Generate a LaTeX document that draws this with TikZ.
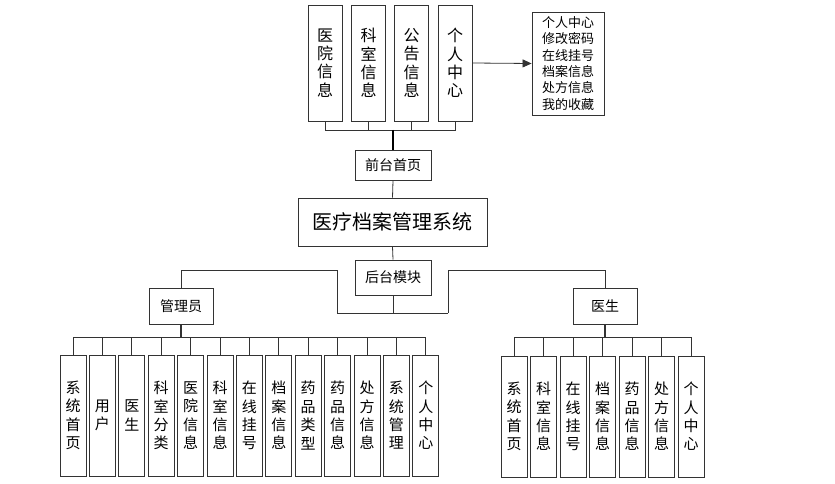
\documentclass[tikz,border=0pt]{standalone}
\usepackage{fontspec}
\setmainfont{Noto Sans CJK SC}
\usetikzlibrary{arrows.meta}
\begin{document}
\begin{tikzpicture}[x=1pt,y=-1pt,
  box/.style={draw=black!80,line width=0.9pt,fill=white,inner sep=0pt,align=center},
  vbox/.style={box,minimum width=#1,text width=#1},
  topbox/.style={box,minimum width=34pt,minimum height=116pt,font=\fontsize{16}{18.3}\selectfont},
  botbox/.style={box,minimum width=26pt,minimum height=121pt,font=\fontsize{15}{18.4}\selectfont},
  hbox/.style={box,font=\fontsize{14}{16}\selectfont},
  conn/.style={draw=black!80,line width=0.8pt},
]
\useasboundingbox (0,0) rectangle (835,484);
% top boxes
\node[topbox] (t1) at (325,63) {医\\院\\信\\息};
\node[topbox] (t2) at (368.5,63) {科\\室\\信\\息};
\node[topbox] (t3) at (411.5,63) {公\\告\\信\\息};
\node[topbox] (t4) at (455,63) {个\\人\\中\\心};
\node[box,minimum width=72pt,minimum height=103pt,font=\fontsize{13}{16.3}\selectfont] (pc) at (568,63.5) {个人中心\\修改密码\\在线挂号\\档案信息\\处方信息\\我的收藏};
\draw[conn,-{Triangle[length=9pt,width=8pt]}] (t4.east) -- (pc.west);
\coordinate (tb) at (393,130);
\foreach \n in {t1,t2,t3,t4} \draw[conn] (\n.south) |- (tb);
% front
\node[hbox,minimum width=76pt,minimum height=30pt] (front) at (393,165) {前台首页};
\draw[draw=black,line width=1.6pt] (tb) -- (front.north);
\node[box,minimum width=189pt,minimum height=48pt,font=\fontsize{20}{22}\selectfont] (sys) at (392.5,222) {医疗档案管理系统};
\draw[conn] (front.south) -- (sys.north);
\node[hbox,minimum width=76pt,minimum height=35pt] (back) at (393,277.5) {后台模块};
\draw[conn] (sys.south) -- (back.north);
\node[hbox,minimum width=64pt,minimum height=36pt] (admin) at (181,306) {管理员};
\node[hbox,minimum width=64pt,minimum height=36pt] (doc) at (605,306) {医生};
\coordinate (bb) at (393,313);
\coordinate (l1) at (337,313);
\coordinate (l2) at (337,270);
\coordinate (r1) at (448,313);
\coordinate (r2) at (448,270);
\draw[conn] (back.south) -- (bb);
\draw[conn] (l1) -- (r1);
\draw[conn] (l1) -- (l2) -| (admin.north);
\draw[conn] (r1) -- (r2) -| (doc.north);
% admin children
\coordinate (ab) at (181,337);
\coordinate (db) at (605,337);
\draw[conn,line width=1.2pt] (admin.south) -- (ab);
\draw[conn,line width=1.2pt] (doc.south) -- (db);
\foreach \t [count=\i from 0] in {系\\统\\首\\页,用\\户,医\\生,科\\室\\分\\类,医\\院\\信\\息,科\\室\\信\\息,在\\线\\挂\\号,档\\案\\信\\息,药\\品\\类\\型,药\\品\\信\\息,处\\方\\信\\息,系\\统\\管\\理,个\\人\\中\\心}{
  \node[botbox] (a\i) at ({73+29.4*\i},415.5) {\t};
  \draw[conn] (a\i.north) |- (ab);
}
\foreach \t [count=\i from 0] in {系\\统\\首\\页,科\\室\\信\\息,在\\线\\挂\\号,档\\案\\信\\息,药\\品\\信\\息,处\\方\\信\\息,个\\人\\中\\心}{
  \node[botbox] (d\i) at ({514+29.5*\i},416.5) {\t};
  \draw[conn] (d\i.north) |- (db);
}
\end{tikzpicture}
\end{document}
